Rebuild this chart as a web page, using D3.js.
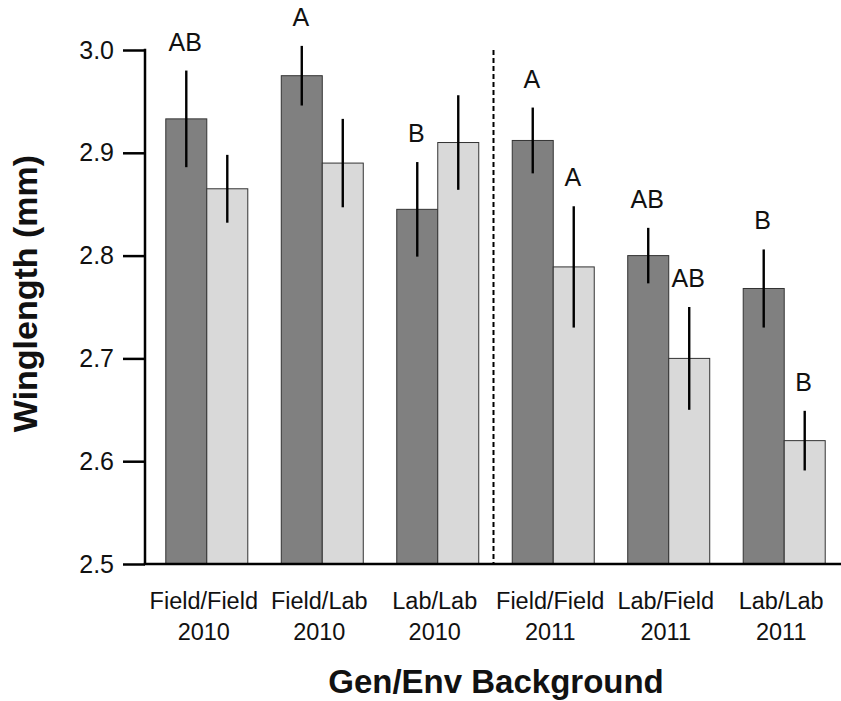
<!DOCTYPE html>
<html>
<head>
<meta charset="utf-8">
<script src="https://cdn.jsdelivr.net/npm/d3@7/dist/d3.min.js"></script>
<style>
  html, body { margin: 0; padding: 0; background: #fff; }
  svg { display: block; font-family: "Liberation Sans", Arial, Helvetica, sans-serif; }
</style>
</head>
<body>
<svg id="chart" width="841" height="701"></svg>
<script>
// ---- data ----
const genEnv = ["Field/Field", "Field/Lab", "Lab/Lab", "Field/Field", "Lab/Field", "Lab/Lab"];
const years = ["2010", "2010", "2010", "2011", "2011", "2011"];
const series = ["dark", "light"];
const darkMeans = [2.933, 2.975, 2.845, 2.912, 2.800, 2.768];
const darkErr   = [0.047, 0.029, 0.046, 0.032, 0.027, 0.038];
const lightMeans = [2.865, 2.890, 2.910, 2.789, 2.700, 2.620];
const lightErr   = [0.033, 0.043, 0.046, 0.059, 0.050, 0.029];
const darkLetters  = ["AB", "A", "B", "A", "AB", "B"];
const lightLetters = ["", "", "", "A", "AB", "B"];
const yTicks = [2.5, 2.6, 2.7, 2.8, 2.9, 3.0];
const yTitle = "Winglength (mm)";
const xTitle = "Gen/Env Background";

// ---- build table ----
const groups = genEnv.map((g, i) => i);
const rows = [];
groups.forEach(i => {
  rows.push({g: i, s: "dark", v: darkMeans[i], e: darkErr[i], l: darkLetters[i]});
  rows.push({g: i, s: "light", v: lightMeans[i], e: lightErr[i], l: lightLetters[i]});
});

const svg = d3.select("#chart");
const axisX = 145, baseY = 564, topY = 50;

const y = d3.scaleLinear().domain([2.5, 3.0]).range([baseY, topY]);
const x0 = d3.scaleBand().domain(groups).range([145, 846]).paddingInner(0.29).paddingOuter(0.18);
const x1 = d3.scaleBand().domain(series).range([0, x0.bandwidth()]).padding(0);
const fill = {dark: "#808080", light: "#d9d9d9"};

// bars
svg.append("g").selectAll("rect").data(rows).join("rect")
  .attr("x", d => x0(d.g) + x1(d.s))
  .attr("y", d => y(d.v))
  .attr("width", x1.bandwidth())
  .attr("height", d => y(2.5) - y(d.v))
  .attr("fill", d => fill[d.s])
  .attr("stroke", "#333")
  .attr("stroke-width", 1);

// error bars
svg.append("g").selectAll("line").data(rows).join("line")
  .attr("x1", d => x0(d.g) + x1(d.s) + x1.bandwidth() / 2)
  .attr("x2", d => x0(d.g) + x1(d.s) + x1.bandwidth() / 2)
  .attr("y1", d => y(d.v + d.e))
  .attr("y2", d => y(d.v - d.e))
  .attr("stroke", "#000")
  .attr("stroke-width", 2.4);

// letters
svg.append("g").selectAll("text").data(rows.filter(d => d.l)).join("text")
  .attr("x", d => x0(d.g) + x1(d.s) + x1.bandwidth() / 2 - 1)
  .attr("y", d => y(d.v + d.e) - 20)
  .attr("text-anchor", "middle")
  .attr("font-size", 25)
  .attr("fill", "#111")
  .text(d => d.l);

// dashed separator between 2010 and 2011
const sepX = (x0(2) + x0.bandwidth() + x0(3)) / 2 - 2;
svg.append("line")
  .attr("x1", sepX).attr("x2", sepX)
  .attr("y1", topY).attr("y2", baseY)
  .attr("stroke", "#000").attr("stroke-width", 2)
  .attr("stroke-dasharray", "5,3");

// y axis
const yAxis = d3.axisLeft(y).tickValues(yTicks).tickFormat(d3.format(".1f"))
  .tickSize(22).tickPadding(9);
const gy = svg.append("g").attr("transform", `translate(${axisX},0)`).call(yAxis);
gy.select(".domain").remove();
gy.selectAll(".tick line").attr("stroke", "#000").attr("stroke-width", 2.5);
gy.selectAll(".tick text").attr("font-size", 25).attr("fill", "#111")
  .attr("font-family", '"Liberation Sans", Arial, sans-serif');
svg.append("line").attr("x1", axisX).attr("x2", axisX)
  .attr("y1", topY - 1.25).attr("y2", baseY)
  .attr("stroke", "#000").attr("stroke-width", 2.5);

// x axis line
svg.append("line").attr("x1", axisX - 1.25).attr("x2", 841)
  .attr("y1", baseY).attr("y2", baseY)
  .attr("stroke", "#000").attr("stroke-width", 2.5);

// category labels
const cat = svg.append("g").selectAll("text").data(groups).join("text")
  .attr("text-anchor", "middle")
  .attr("font-size", 23.5)
  .attr("fill", "#111");
cat.append("tspan").attr("x", d => x0(d) + x0.bandwidth() / 2 - 3).attr("y", 609).text(d => genEnv[d]);
cat.append("tspan").attr("x", d => x0(d) + x0.bandwidth() / 2 - 3).attr("y", 640).text(d => years[d]);

// axis titles
svg.append("text")
  .attr("transform", "translate(37,293.5) rotate(-90)")
  .attr("text-anchor", "middle")
  .attr("font-size", 34).attr("font-weight", "bold").attr("fill", "#111")
  .text(yTitle);
svg.append("text")
  .attr("x", 496).attr("y", 693)
  .attr("text-anchor", "middle")
  .attr("font-size", 33).attr("font-weight", "bold").attr("fill", "#111")
  .text(xTitle);
</script>
</body>
</html>
